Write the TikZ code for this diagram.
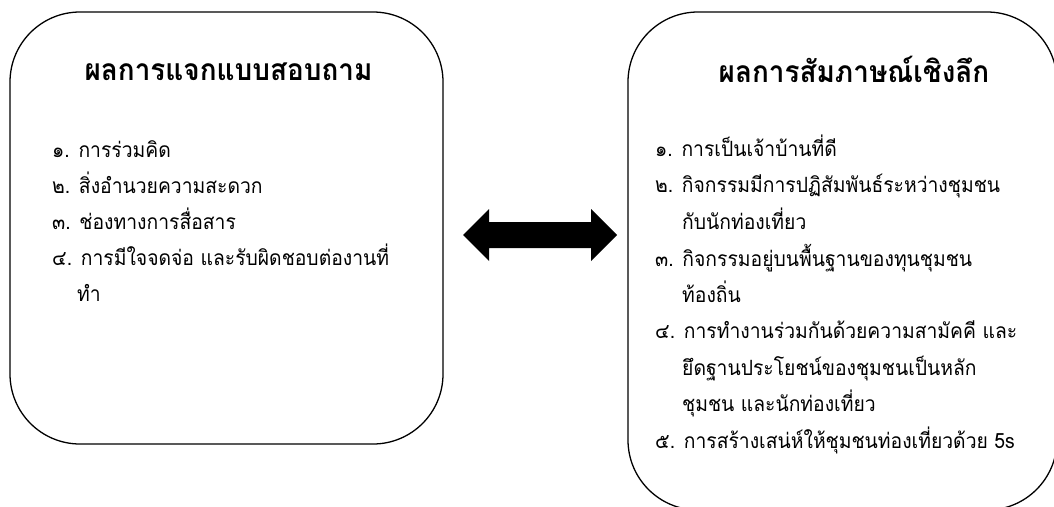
\documentclass[tikz,border=0pt]{standalone}
\usepackage{fontspec}
\newfontfamily\thai[Script=Thai,FakeStretch=0.92]{Loma}
\newfontfamily\thaititle[Script=Thai,FakeStretch=0.93]{Loma}
\begin{document}
\begin{tikzpicture}[x=1pt,y=-1pt,
  box/.style={draw=black,line width=1.3pt,rounded corners=70pt,inner sep=0pt},
  ttl/.style={font=\thaititle\bfseries\fontsize{30}{34}\selectfont,inner sep=0pt,anchor=base},
  itm/.style={font=\thai\fontsize{21}{24}\selectfont,inner sep=0pt,anchor=base west}]
\useasboundingbox (0,0) rectangle (1054,506);
\clip (0,0) rectangle (1054,506);
\node[box,minimum width=433pt,minimum height=432pt] (L) at (226.5,228) {};
\node[box,minimum width=429pt,minimum height=498pt] (R) at (842.5,261) {};
\node[ttl] (Lt) at (228.5,80) {ผลการแจกแบบสอบถาม};
\node[ttl] (Rt) at (854,82) {ผลการสัมภาษณ์เชิงลึก};
\node[itm] (l1) at (52,157) {๑. การร่วมคิด};
\node[itm] (l2) at (52,193) {๒. สิ่งอำนวยความสะดวก};
\node[itm] (l3) at (52,229) {๓. ช่องทางการสื่อสาร};
\node[itm] (l4) at (52,265) {๔. การมีใจจดจ่อ และรับผิดชอบต่องานที่};
\node[itm] (l5) at (77,301) {ทำ};
\node[itm] (r1) at (655,156) {๑. การเป็นเจ้าบ้านที่ดี};
\node[itm] (r2) at (655,192) {๒. กิจกรรมมีการปฏิสัมพันธ์ระหว่างชุมชน};
\node[itm] (r3) at (682,229) {กับนักท่องเที่ยว};
\node[itm] (r4) at (655,266) {๓. กิจกรรมอยู่บนพื้นฐานของทุนชุมชน};
\node[itm] (r5) at (682,302) {ท้องถิ่น};
\node[itm] (r6) at (655,338) {๔. การทำงานร่วมกันด้วยความสามัคคี และ};
\node[itm] (r7) at (682,375) {ยึดฐานประโยชน์ของชุมชนเป็นหลัก};
\node[itm] (r8) at (682,411) {ชุมชน และนักท่องเที่ยว};
\node[itm] (r9) at (655,448) {๕. การสร้างเสน่ห์ให้ชุมชนท่องเที่ยวด้วย 5s};
\fill[black] (463,235) -- (489,209) -- (489,222) -- (591,222) -- (591,209) -- (617,235)
  -- (591,261) -- (591,248) -- (489,248) -- (489,261) -- cycle;
\end{tikzpicture}
\end{document}
